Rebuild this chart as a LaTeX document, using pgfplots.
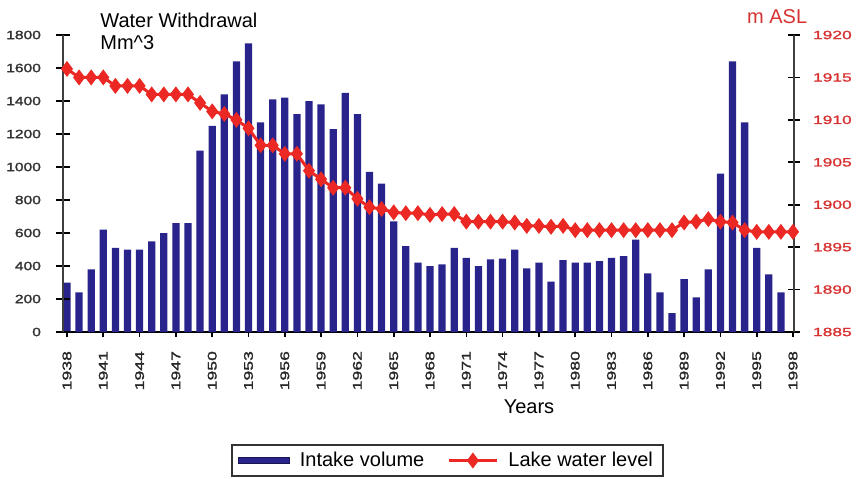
\documentclass[border=0pt]{standalone}
\usepackage{fontspec}
\setmainfont{Liberation Sans}
\newfontfamily\ytickfont[FakeStretch=1.3,FakeBold=2]{Liberation Sans}
\newfontfamily\rtickfont[FakeStretch=1.45,FakeBold=1.5]{Liberation Sans}
\newfontfamily\xtickfont[FakeStretch=1.4,FakeBold=1.6]{Liberation Sans}
\usepackage{pgfplots}
\usepackage{pgfplotstable}
\pgfplotsset{compat=1.18}
\definecolor{barcol}{RGB}{40,36,140}
\definecolor{linered}{RGB}{235,40,35}
\definecolor{tickred}{RGB}{215,50,50}

\pgfplotstableread{
year vol
1938 300
1939 240
1940 380
1941 620
1942 510
1943 500
1944 500
1945 550
1946 600
1947 660
1948 660
1949 1100
1950 1250
1951 1440
1952 1640
1953 1750
1954 1270
1955 1410
1956 1420
1957 1320
1958 1400
1959 1380
1960 1230
1961 1450
1962 1320
1963 970
1964 900
1965 670
1966 520
1967 420
1968 400
1969 410
1970 510
1971 450
1972 400
1973 440
1974 445
1975 500
1976 385
1977 420
1978 305
1979 435
1980 420
1981 420
1982 430
1983 450
1984 460
1985 560
1986 355
1987 240
1988 115
1989 320
1990 210
1991 380
1992 960
1993 1640
1994 1270
1995 510
1996 350
1997 240
}\voltable

\pgfplotstableread{
year lvl
1938 1916
1939 1915
1940 1915
1941 1915
1942 1914
1943 1914
1944 1914
1945 1913
1946 1913
1947 1913
1948 1913
1949 1912
1950 1911
1951 1910.7
1952 1910
1953 1909
1954 1907
1955 1907
1956 1906
1957 1906
1958 1904
1959 1903
1960 1902
1961 1902
1962 1900.7
1963 1899.7
1964 1899.5
1965 1899.1
1966 1899
1967 1899
1968 1898.8
1969 1898.9
1970 1898.9
1971 1898
1972 1898
1973 1898
1974 1898
1975 1897.9
1976 1897.5
1977 1897.5
1978 1897.4
1979 1897.5
1980 1897
1981 1897
1982 1897
1983 1897
1984 1897
1985 1897
1986 1897
1987 1897
1988 1897
1989 1897.9
1990 1898
1991 1898.3
1992 1898
1993 1897.9
1994 1897
1995 1896.8
1996 1896.8
1997 1896.8
1998 1896.8
}\lvltable

\begin{document}
\begin{tikzpicture}
\path[use as bounding box] (-31.5pt,-73pt) rectangle (397.5pt,166pt);
% axis 1: bars, x axis, left tick labels
\begin{axis}[
  scale only axis, width=365.5pt, height=148.5pt,
  xmin=1937.67, xmax=1998.08, ymin=0, ymax=1800,
  axis x line=bottom, axis y line=left, axis line style={-},
  x axis line style={line width=1.2pt, black},
  y axis line style={line width=0.8pt, black!75},
  xtick={1938,1941,...,1998}, minor x tick num=2,
  ytick={0,200,...,1800},
  tick align=outside,
  major tick length=2.5pt, minor tick length=2.5pt,
  tick style={line width=0.8pt, black},
  major y tick style={draw=none},
  scaled ticks=false,
  /pgf/number format/.cd, set thousands separator={}, assume math mode=true, /pgfplots/.cd,
  yticklabel style={font=\ytickfont\fontsize{6}{7}\selectfont, color=black!80},
  yticklabel shift=5pt,
  xticklabel style={yshift=-3.5pt, rotate=90, anchor=east, font=\xtickfont\fontsize{6.3}{7}\selectfont, color=black!85},
  xticklabel shift=0pt,
  clip=false,
]
\addplot[ybar, bar width=0.6, fill=barcol, draw=none] table[x=year, y=vol] {\voltable};
\node[anchor=north west, inner sep=0pt, align=left, font=\fontsize{10}{11}\selectfont] at (axis description cs:0.0506,1.074) {Water Withdrawal\\Mm\textasciicircum 3};
\node[font=\fontsize{10}{12}\selectfont] at (axis description cs:0.6375,-0.2525) {Years};
\end{axis}
% axis 3: left y ticks (crossing the axis line)
\begin{axis}[
  scale only axis, width=365.5pt, height=148.5pt,
  xmin=1937.67, xmax=1998.08, ymin=0, ymax=1800,
  axis x line=none, axis y line=left, axis line style={-},
  y axis line style={line width=0.8pt, black!75},
  ytick={0,200,...,1800}, yticklabels={},
  ytick align=center, major tick length=7pt,
  major y tick style={line width=0.9pt, black},
]
\end{axis}
% axis 2: right axis and lake level
\begin{axis}[
  scale only axis, width=365.5pt, height=148.5pt,
  xmin=1937.67, xmax=1998.08, ymin=1885, ymax=1920,
  axis x line=none, axis y line=right, axis line style={-},
  y axis line style={line width=0.8pt, black!75},
  ytick={1885,1890,...,1920},
  ytick align=center, major tick length=6pt,
  major y tick style={line width=0.9pt, black},
  scaled ticks=false,
  /pgf/number format/.cd, set thousands separator={}, assume math mode=true, /pgfplots/.cd,
  yticklabel style={font=\rtickfont\fontsize{6}{7}\selectfont, color=tickred},
  yticklabel shift=3pt,
  clip=false,
  legend style={at={(0.526,-0.4327)}, anchor=center, legend columns=2, draw=black!80, line width=0.8pt,
    font=\fontsize{10}{12}\selectfont, inner xsep=3pt, inner ysep=1.5pt,
    /tikz/every odd column/.append style={column sep=3pt},
    /tikz/every even column/.append style={column sep=9.5pt}},
]
\addlegendimage{legend image code/.code={\fill[barcol, draw=barcol!60!black, line width=0.4pt] (0pt,-1.6pt) rectangle (25.5pt,1.6pt);}}
\addlegendentry{Intake volume}
\addplot[linered, line width=1.5pt, mark=diamond*, mark size=3.6pt, mark options={fill=linered, draw=linered, line width=0.5pt},
  legend image code/.code={\draw[mark repeat=2, mark phase=2] plot coordinates {(0pt,0pt) (12pt,0pt) (24pt,0pt)};}]
  table[x=year, y=lvl] {\lvltable};
\addlegendentry{Lake water level\hspace{5pt}}
\node[font=\fontsize{10}{12}\selectfont, text=tickred] at (axis description cs:0.977,1.061) {m ASL};
\end{axis}
\end{tikzpicture}
\end{document}
